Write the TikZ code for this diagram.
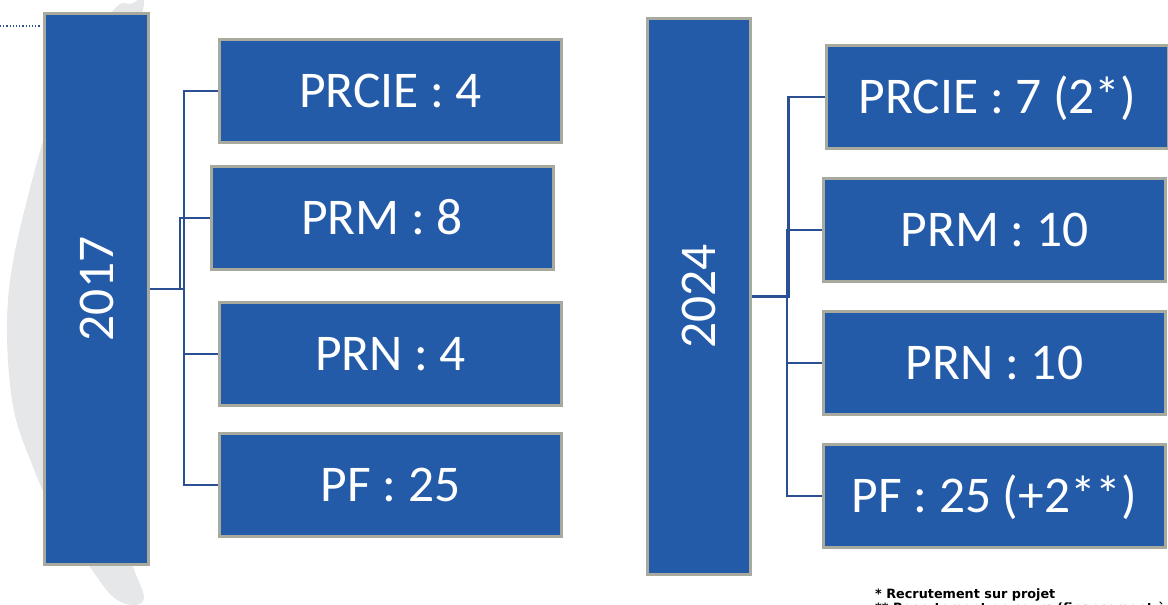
\documentclass[tikz,border=0pt]{standalone}
\usepackage{fontspec}
\setmainfont{Carlito}
\newfontfamily\notefont{DejaVu Sans}
\usetikzlibrary{calc}
\definecolor{boxblue}{HTML}{235BA8}
\definecolor{boxedge}{HTML}{A9AA9E}
\definecolor{linkblue}{HTML}{2A4F93}
\definecolor{crescentgray}{HTML}{E6E7E8}
\begin{document}
\begin{tikzpicture}[x=1pt,y=-1pt,
  box/.style={draw=boxedge, line width=3pt, fill=boxblue, text=white,
    inner sep=0pt, outer sep=0pt, minimum width=342pt, minimum height=103pt,
    font=\fontsize{51.5}{60}\selectfont, text height=33pt, text depth=0pt},
  yearbox/.style={draw=boxedge, line width=3pt, fill=boxblue, text=white,
    inner sep=0pt, outer sep=0pt, font=\fontsize{51.5}{60}\selectfont},
  conn/.style={draw=linkblue, line width=2.4pt},
  note/.style={anchor=base west, inner sep=0pt, font=\notefont\bfseries\fontsize{12.8}{15}\selectfont, text=black}]
\useasboundingbox (0,0) rectangle (1168,605);
\clip (0,0) rectangle (1168,605);
% background crescent
\fill[crescentgray] plot[smooth cycle, tension=0.6] coordinates {
  (130,4) (112,12) (62,88) (27,200) (8,300) (12,400) (33,467) (60,525)
  (90,567) (112,596) (132,605) (144,598) (133,567) (100,480) (80,300)
  (100,130) (143,10)};
% dotted line
\draw[linkblue, dotted, line width=1.2pt] (0,26) -- (41,26);
% nodes
\node[yearbox, minimum width=104pt, minimum height=551pt] (y17) at (96.5,289) {\rotatebox{90}{2017}};
\node[box] (b1) at (390.5,91) {PRCIE : 4};
\node[box] (b2) at (382,218) {PRM : 8};
\node[box] (b3) at (390.5,354) {PRN : 4};
\node[box] (b4) at (390.5,485) {PF : 25};
\node[yearbox, minimum width=103pt, minimum height=556pt] (y24) at (699,296.5) {\rotatebox{90}{2024}};
\node[box] (c1) at (997.5,97) {PRCIE : 7 (2*)};
\node[box] (c2) at (994.5,230) {PRM : 10};
\node[box] (c3) at (994.5,363) {PRN : 10};
\node[box] (c4) at (994.5,496) {PF : 25 (+2**)};
% connectors
\foreach \p/\c in {y17/b1, y17/b2, y17/b3, y17/b4, y24/c1, y24/c2, y24/c3, y24/c4}{
  \draw[conn] (\p.east) -- ($(\p.east)!.5!(\p.east-|\c.west)$) |- (\c.west);
}
% redraw box borders over connector ends
\foreach \n in {b1,b2,b3,b4,c1,c2,c3,c4}{
  \draw[boxedge, line width=3pt] (\n.north west) -- (\n.south west);
}
\draw[boxedge, line width=3pt] (y17.north east) -- (y17.south east);
\draw[boxedge, line width=3pt] (y24.north east) -- (y24.south east);
% footnotes
\node[note] (n1) at (875,598) {* Recrutement sur projet};
\node[note] (n2) at (875,612.5) {** Recrutement en cours (financement à la charge de l'institut)};
\end{tikzpicture}
\end{document}
